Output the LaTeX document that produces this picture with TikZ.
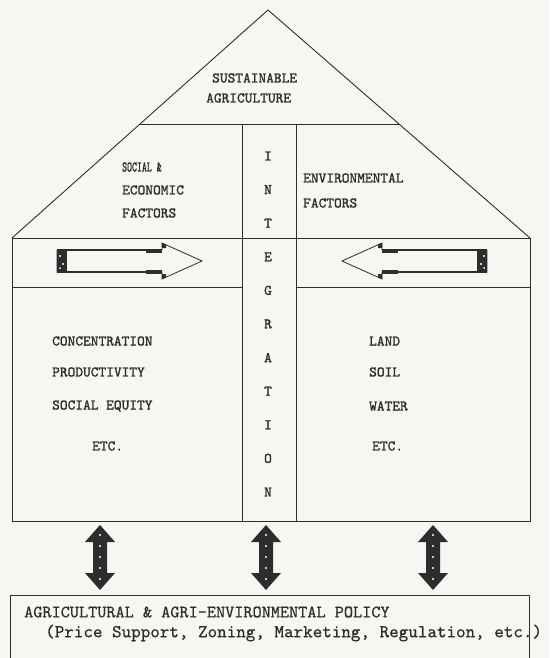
\documentclass[tikz,border=0pt]{standalone}
\usepackage{fontspec}
\newfontfamily\dotfont{lmmono10-regular.otf}[FakeBold=1.4]
\newfontfamily\polfont{lmmono10-regular.otf}[FakeBold=0.6]
\definecolor{bg}{RGB}{245,247,242}
\definecolor{ink}{RGB}{45,45,45}
\begin{document}
\begin{tikzpicture}[x=1pt,y=-1pt,
  ln/.style={draw=ink, line width=0.9pt, line join=miter},
  lab/.style={font=\dotfont\fontsize{14.7}{16}\selectfont, text=ink, inner sep=0pt, anchor=west},
  letter/.style={font=\dotfont\fontsize{14.7}{16}\selectfont, text=ink, inner sep=0pt},
  pol/.style={font=\polfont\fontsize{17.4}{19}\selectfont, text=ink, inner sep=0pt, anchor=west},
  pol2/.style={font=\polfont\fontsize{18.2}{20}\selectfont, text=ink, inner sep=0pt, anchor=west},
  darkfill/.style={fill=ink},
  dot/.style={fill=white, draw=none}
]
\useasboundingbox (0,0) rectangle (549,658);
\clip (0,0) rectangle (549,658);
\fill[bg] (0,0) rectangle (549,658);

% ---- house outline ----
\coordinate (apex) at (268,10);
\coordinate (bl) at (12,238);
\coordinate (br) at (530,238);
\coordinate (sl) at (140,124);
\coordinate (sr) at (399,124);
\draw[ln] (bl) -- (apex) -- (br);
\draw[ln] (sl) -- (sr);
% main box
\draw[ln] (bl) rectangle (530,521);
% integration column
\draw[ln] (242,124) -- (242,521);
\draw[ln] (296,124) -- (296,521);
% band line
\draw[ln] (12,287) -- (242,287);
\draw[ln] (296,287) -- (530,287);

% ---- texts ----
\node[lab] (sus) at (212,78) {SUSTAINABLE};
\node[lab] (agr) at (206,98) {AGRICULTURE};

\node[lab, xscale=0.8] (soc) at (122,167) {\scalebox{0.8}[1]{SOCIAL \&}};
\node[lab] (eco) at (122,190) {ECONOMIC};
\node[lab] (fac1) at (122,213) {FACTORS};
\node[lab] (env) at (303,178) {ENVIRONMENTAL};
\node[lab] (fac2) at (303,203) {FACTORS};

\foreach \ch [count=\i from 0] in {I,N,T,E,G,R,A,T,I,O,N}{
  \node[letter] (int\i) at (268,{156+33.6*\i}) {\ch};
}

\node[lab] (con) at (52,341) {CONCENTRATION};
\node[lab] (pro) at (52,372) {PRODUCTIVITY};
\node[lab] (seq) at (52,406) {SOCIAL EQUITY};
\node[lab] (etc1) at (92,446) {ETC.};
\node[lab] (land) at (369,341) {LAND};
\node[lab] (soil) at (369,372) {SOIL};
\node[lab] (wat) at (369,406) {WATER};
\node[lab] (etc2) at (372,446) {ETC.};

% ---- horizontal arrows in band ----
% left arrow (pointing right)
\draw[ln, line width=0.8pt, fill=bg] (57,250) -- (162,250) -- (162,243) -- (202,261) -- (162,279) -- (162,272) -- (57,272) -- cycle;
\draw[ink, line width=1.6pt] (67,250) -- (162,250) (67,272) -- (162,272);
\fill[darkfill] (57,249) rectangle (67,273);
\fill[dot] (60,256) circle (1.1); \fill[dot] (63,264) circle (1.1); \fill[dot] (60,268) circle (1);
\fill[darkfill] (146,248.5) rectangle (162,252.5);
\fill[darkfill] (146,269.5) rectangle (162,273.5);
\fill[darkfill] (162,243) -- (166,244.5) -- (166,248) -- (162,248) -- cycle;
\fill[darkfill] (162,279) -- (166,277.5) -- (166,274) -- (162,274) -- cycle;
% right arrow (pointing left)
\draw[ln, line width=0.8pt, fill=bg] (487,250) -- (382,250) -- (382,243) -- (342,261) -- (382,279) -- (382,272) -- (487,272) -- cycle;
\draw[ink, line width=1.6pt] (477,250) -- (382,250) (477,272) -- (382,272);
\fill[darkfill] (477,249) rectangle (487,273);
\fill[dot] (484,256) circle (1.1); \fill[dot] (481,264) circle (1.1); \fill[dot] (484,268) circle (1);
\fill[darkfill] (382,248.5) rectangle (398,252.5);
\fill[darkfill] (382,269.5) rectangle (398,273.5);
\fill[darkfill] (382,243) -- (378,244.5) -- (378,248) -- (382,248) -- cycle;
\fill[darkfill] (382,279) -- (378,277.5) -- (378,274) -- (382,274) -- cycle;

% ---- policy box ----
\draw[ln] (10,670) -- (10,595) -- (529,595) -- (529,670);
\node[pol] (p1) at (24,612) {AGRICULTURAL \& AGRI-ENVIRONMENTAL POLICY};
\node[pol2] (p2) at (45,633) {(Price Support, Zoning, Marketing, Regulation, etc.)};

% ---- vertical double arrows ----
\foreach \c/\nm in {100/va, 266/vb, 433/vc}{
  \coordinate (\nm top) at (\c,525);
  \coordinate (\nm bot) at (\c,590);
  \fill[darkfill] (\nm top) -- ++(15,17) -- ++(-8,0) -- ++(0,31) -- ++(8,0) -- (\nm bot) -- ++(-15,-17) -- ++(8,0) -- ++(0,-31) -- ++(-8,0) -- cycle;
  \foreach \yy in {535,546,557,568,579}{
    \fill[dot] (\c,\yy) circle (1.2);
  }
}
\end{tikzpicture}
\end{document}
